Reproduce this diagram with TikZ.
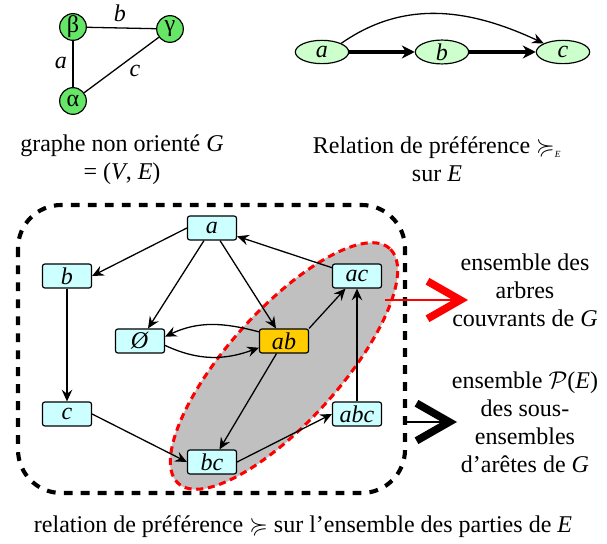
\documentclass[tikz,border=0pt]{standalone}
\usepackage{fontspec}
\setmainfont{Liberation Serif}
\usepackage{amssymb}
\usetikzlibrary{arrows.meta,shapes.geometric}

\definecolor{vertgreen}{RGB}{102,230,102}
\definecolor{palegreen}{RGB}{204,255,204}
\definecolor{palecyan}{RGB}{204,255,255}
\definecolor{gold}{RGB}{255,204,0}
\definecolor{spangray}{RGB}{192,192,192}

\tikzset{
  vertex/.style={circle, draw, fill=vertgreen, line width=1pt, minimum size=0.8cm, inner sep=0pt},
  elem/.style={ellipse, draw, fill=palegreen, line width=1pt, minimum width=1.6cm, minimum height=0.7cm, inner sep=0pt},
  subset/.style={draw, fill=palecyan, rounded corners=2pt, line width=1pt, minimum width=1.47cm, minimum height=0.72cm, inner sep=0pt},
  pref/.style={-{Stealth[length=10pt,width=9pt,inset=3.5pt]}, line width=1.1pt},
  chevron/.style={-{Straight Barb[length=28pt,width=32pt,line width=6.5pt]}, line width=1.2pt},
}

\begin{document}
\begin{tikzpicture}[x=0.03cm, y=-0.03cm, font=\fontsize{20.5}{23.8}\selectfont]
  \useasboundingbox (0,0) rectangle (607,544);

  % graphe G
  \node[vertex] (beta) at (73,27) {β};
  \node[vertex] (gamma) at (170,29) {γ};
  \node[vertex] (alpha) at (73,101) {α};
  \draw[line width=1.1pt] (beta) -- (gamma);
  \draw[line width=1.1pt] (beta) -- (alpha);
  \draw[line width=1.1pt] (alpha) -- (gamma);
  \node (lb) at (120,13) {\textit{b}};
  \node (la) at (61,63) {\textit{a}};
  \node (lc) at (135,71) {\textit{c}};
  \node[align=center] (gcap) at (122,160) {graphe non orienté \textit{G}\\= (\textit{V}, \textit{E})};

  % relation sur E
  \node[elem] (ea) at (322,52) {\textit{a}};
  \node[elem] (eb) at (442,52) {\textit{b}};
  \node[elem] (ec) at (563,52) {\textit{c}};
  \draw[-{Stealth[length=11pt,width=11pt,inset=3.5pt]}, line width=2.6pt] (ea) -- (eb);
  \draw[-{Stealth[length=11pt,width=11pt,inset=3.5pt]}, line width=2.6pt] (eb) -- (ec);
  \draw[pref] (ea.north east) to[out=35,in=155] (ec.north west);
  \node[align=center] (ecap) at (437,159) {Relation de préférence $\succcurlyeq_{\hbox{\fontsize{8}{8}\selectfont\textit{E}}}$\\sur \textit{E}};

  % parties de E
  \draw[line width=3.5pt, dash pattern=on 7.5pt off 7pt, rounded corners=1.3cm] (18,205) rectangle (405,493);
  \draw[spangray, fill=spangray, shift={(284,366)}, rotate=48] (0,0) ellipse [x radius=4.74cm, y radius=1.68cm];
  \draw[red, line width=2.6pt, dash pattern=on 6pt off 4pt, shift={(284,366)}, rotate=48] (0,0) ellipse [x radius=4.74cm, y radius=1.68cm];

  \node[subset] (a) at (212,228) {\textit{a}};
  \node[subset] (b) at (67,276) {\textit{b}};
  \node[subset] (empty) at (140,341) {\textit{Ø}};
  \node[subset, fill=gold] (ab) at (284,341) {\textit{ab}};
  \node[subset] (ac) at (357,276) {\textit{ac}};
  \node[subset] (c) at (67,414) {\textit{c}};
  \node[subset] (abc) at (357,414) {\textit{abc}};
  \node[subset] (bc) at (212,462) {\textit{bc}};

  \draw[pref] (a.west) -- (b.east);
  \draw[pref] (a) -- (empty);
  \draw[pref] (a) -- (ab);
  \draw[pref] (ac) -- (a);
  \draw[pref] (b) -- (c);
  \draw[pref] (ab.160) to[out=165,in=25] (empty.10);
  \draw[pref] (empty.-10) to[out=-25,in=200] (ab.195);
  \draw[pref] (ab.north east) -- (ac);
  \draw[pref] (ab) -- (bc);
  \draw[pref] (c.east) -- (bc.west);
  \draw[pref] (bc.east) -- (abc.west);
  \draw[pref] (abc) -- (ac);

  % ensembles
  \coordinate (treesout) at (385,300);
  \coordinate (treestip) at (468,300);
  \draw[chevron, red] (treesout) -- (treestip);
  \coordinate (partsout) at (405,422);
  \coordinate (partstip) at (457,422);
  \draw[chevron] (partsout) -- (partstip);
  \node[align=center] (trees) at (525,290) {ensemble des\\arbres\\couvrants de \textit{G}};
  \node[align=center] (parts) at (525,422) {ensemble $\mathcal{P}$(\textit{E})\\des sous-\\ensembles\\d’arêtes de \textit{G}};

  \node (pcap) at (303,527) {relation de préférence $\succcurlyeq$ sur l’ensemble des parties de \textit{E}};
\end{tikzpicture}
\end{document}
